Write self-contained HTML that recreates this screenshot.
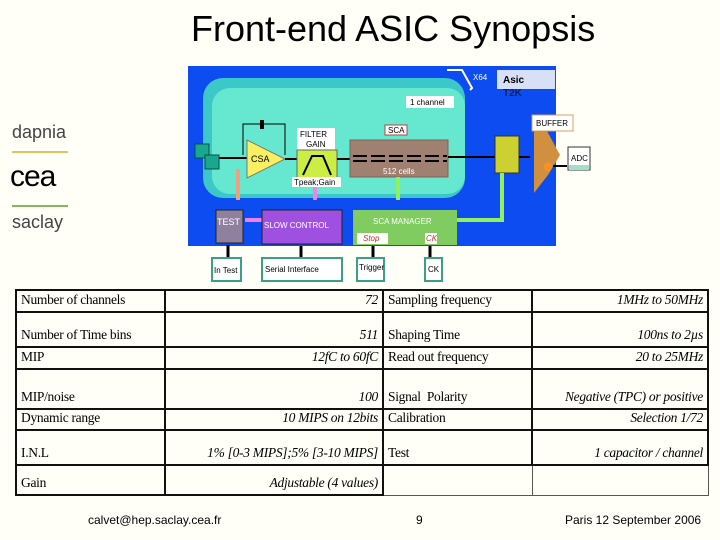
<!DOCTYPE html>
<html><head><meta charset="utf-8"><style>
body{margin:0;width:720px;height:540px;background:#fffff8;overflow:hidden;position:relative;font-family:"Liberation Sans",sans-serif}
.t{position:absolute;white-space:nowrap}
table{position:absolute;left:15px;top:289px;border-collapse:collapse;table-layout:fixed;width:692px;font-family:"Liberation Serif",serif;font-size:13.5px;letter-spacing:-0.3px}
td{border:2px solid #111;padding:0 4px;vertical-align:bottom;padding-bottom:3px;overflow:hidden;white-space:nowrap}
td.v{text-align:right;font-style:italic}
</style></head><body>
<div class="t" style="left:191px;top:8px;font-size:36px;color:#000">Front-end ASIC Synopsis</div>
<div class="t" style="left:12px;top:122px;font-size:18px;color:#444">dapnia</div>
<div style="position:absolute;left:12px;top:151px;width:56px;height:2px;background:#e8c060"></div>
<div class="t" style="left:10px;top:160px;font-size:30px;color:#000;letter-spacing:-1px">cea</div>
<div style="position:absolute;left:12px;top:205px;width:56px;height:2px;background:#80b860"></div>
<div class="t" style="left:12px;top:212px;font-size:18px;color:#444">saclay</div>

<svg style="position:absolute;left:0;top:0" width="720" height="540" font-family="Liberation Sans, sans-serif">
<rect x="188" y="66" width="368" height="180" fill="#0c4cf0"/>
<rect x="497" y="70" width="58" height="19" fill="#d8e0f8"/>
<text x="503" y="83" font-size="10" font-weight="bold">Asic</text>
<text x="503" y="96" font-size="10" font-weight="bold" fill="#102060">T2K</text>
<text x="473" y="80" font-size="8" fill="#fff">X64</text>
<path d="M447 70 L462 70 L472 88 L470 90" stroke="#fff" stroke-width="2" fill="none"/>
<rect x="203" y="78" width="262" height="120" rx="20" fill="#3cc8c8"/>
<rect x="212" y="88" width="253" height="106" rx="18" fill="#66e8d0"/>
<rect x="406" y="96" width="48" height="12" fill="#fff"/>
<text x="410" y="105" font-size="8">1 channel</text>
<rect x="195" y="144" width="14" height="14" fill="#18a890" stroke="#0a5040"/>
<rect x="205" y="155" width="14" height="14" fill="#18a890" stroke="#0a5040"/>
<path d="M219 158 L247 158" stroke="#000" stroke-width="2"/>
<path d="M243 155 L243 124 L285 124 L285 155" stroke="#000" fill="none"/>
<rect x="260" y="120" width="4" height="9" fill="#000"/>
<polygon points="247,140 247,178 285,159" fill="#f8f060" stroke="#777"/>
<text x="251" y="162" font-size="9">CSA</text>
<path d="M285 159 L297 159" stroke="#000" stroke-width="2"/>
<rect x="297" y="128" width="38" height="22" fill="#fff"/>
<text x="300" y="137" font-size="8">FILTER</text>
<text x="306" y="147" font-size="8">GAIN</text>
<rect x="297" y="150" width="40" height="28" fill="#ccee44" stroke="#666"/>
<path d="M303 175 L312 156 L323 156 L331 175" stroke="#000" stroke-width="2" fill="none"/>
<rect x="292" y="177" width="49" height="10" fill="#fff"/>
<text x="294" y="185" font-size="8">Tpeak;Gain</text>
<path d="M337 159 L350 159" stroke="#000" stroke-width="2"/>
<rect x="350" y="140" width="98" height="37" fill="#a08070" stroke="#806050"/>
<rect x="385" y="125" width="22" height="10" fill="#fff" stroke="#c04040"/>
<text x="388" y="133" font-size="8">SCA</text>
<g stroke="#000" stroke-width="2"><path d="M353 156h14M353 161h14M371 156h14M371 161h14M389 156h14M389 161h14M407 156h14M407 161h14M425 156h14M425 161h14M443 156h4M443 161h4"/></g>
<text x="383" y="174" font-size="8" fill="#fff">512 cells</text>
<path d="M448 157 L495 157" stroke="#000" stroke-width="2"/>
<rect x="495" y="136" width="24" height="37" fill="#ccd030" stroke="#333"/>
<path d="M519 157 L530 157" stroke="#000" stroke-width="2"/>
<rect x="532" y="115" width="41" height="16" fill="#fff" stroke="#d0a060"/>
<text x="536" y="126" font-size="8">BUFFER</text>
<polygon points="534,131 547,131 560,155 548,175 534,193" fill="#d09040"/>
<circle cx="548" cy="167" r="4" fill="#ff9020"/>
<rect x="568" y="147" width="22" height="23" fill="#fff" stroke="#333"/>
<rect x="569" y="165" width="20" height="5" fill="#a0e0c8"/>
<text x="571" y="161" font-size="8">ADC</text>
<path d="M567 166 L553 166" stroke="#000" stroke-width="2"/>
<path d="M238 200 L238 169" stroke="#f0a080" stroke-width="4"/>
<path d="M315 200 L315 187" stroke="#f080f0" stroke-width="4"/>
<path d="M398 200 L398 177" stroke="#90f060" stroke-width="4"/>
<path d="M455 220 L502 220 L502 173" stroke="#90f060" stroke-width="4" fill="none"/>
<path d="M262 220 L245 220" stroke="#f080f0" stroke-width="4"/>
<rect x="216" y="210" width="27" height="33" fill="#9080a0" stroke="#222"/>
<text x="217" y="225" font-size="9" fill="#fff">TEST</text>
<rect x="262" y="210" width="80" height="34" fill="#a050e0" stroke="#222"/>
<text x="264" y="228" font-size="8" fill="#fff">SLOW CONTROL</text>
<rect x="353" y="210" width="104" height="35" fill="#80cc60"/>
<text x="373" y="224" font-size="8" fill="#fff">SCA MANAGER</text>
<rect x="357" y="233" width="31" height="11" fill="#fff"/>
<text x="363" y="241" font-size="8" fill="#c03020" font-style="italic">Stop</text>
<rect x="425" y="233" width="12" height="11" fill="#fff"/>
<text x="426" y="241" font-size="8" fill="#c03020" font-style="italic">CK</text>
<g stroke="#000" stroke-width="3"><path d="M228 258V245M301 258V246M373 258V246M430 258V246"/></g>
<g fill="#fff" stroke="#3aa088" stroke-width="2">
<rect x="212" y="258" width="29" height="23"/><rect x="262" y="258" width="80" height="23"/><rect x="357" y="258" width="27" height="23"/><rect x="425" y="258" width="17" height="23"/></g>
<g font-size="8"><text x="214" y="273">In Test</text><text x="265" y="272">Serial Interface</text><text x="359" y="270">Trigger</text><text x="428" y="272">CK</text></g>
</svg>

<table>
<colgroup><col style="width:149px"><col style="width:218px"><col style="width:149px"><col style="width:176px"></colgroup>
<tr style="height:22px"><td>Number of channels</td><td class="v">72</td><td>Sampling frequency</td><td class="v">1MHz to 50MHz</td></tr>
<tr style="height:35px"><td>Number of Time bins</td><td class="v">511</td><td>Shaping Time</td><td class="v">100ns to 2µs</td></tr>
<tr style="height:22px"><td>MIP</td><td class="v">12fC to 60fC</td><td>Read out frequency</td><td class="v">20 to 25MHz</td></tr>
<tr style="height:40px"><td>MIP/noise</td><td class="v">100</td><td>Signal&nbsp; Polarity</td><td class="v">Negative (TPC) or positive</td></tr>
<tr style="height:21px"><td>Dynamic range</td><td class="v">10 MIPS on 12bits</td><td>Calibration</td><td class="v">Selection 1/72</td></tr>
<tr style="height:35px"><td>I.N.L</td><td class="v">1% [0-3 MIPS];5% [3-10 MIPS]</td><td>Test</td><td class="v">1 capacitor / channel</td></tr>
<tr style="height:30px"><td>Gain</td><td class="v">Adjustable (4 values)</td><td style="border:1px solid #555;border-top:2px solid #111"></td><td style="border:1px solid #555;border-top:2px solid #111"></td></tr>
</table>

<div class="t" style="left:88px;top:513px;font-size:12px">calvet@hep.saclay.cea.fr</div>
<div class="t" style="left:416px;top:513px;font-size:12px">9</div>
<div class="t" style="left:565px;top:513px;font-size:12px">Paris 12 September 2006</div>
</body></html>
